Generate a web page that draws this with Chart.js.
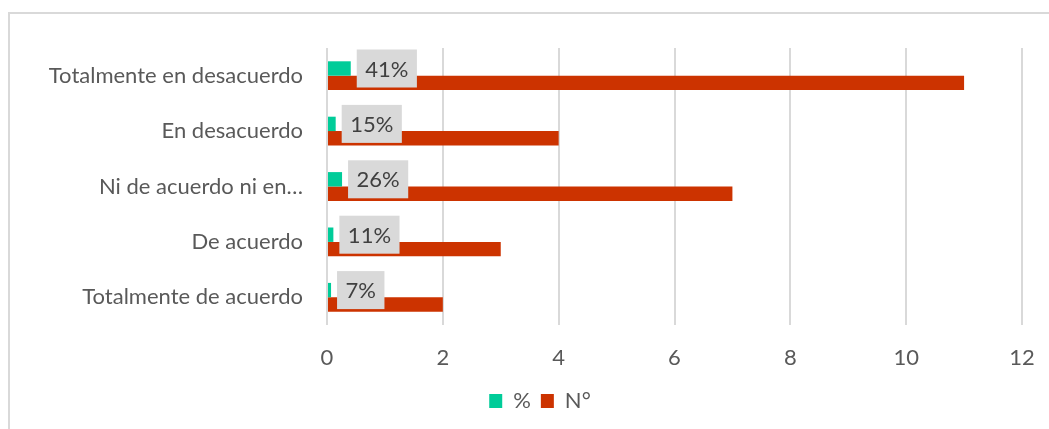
<!DOCTYPE html>
<html>
<head>
<meta charset="utf-8">
<script src="https://cdn.jsdelivr.net/npm/chart.js@4.4.1/dist/chart.umd.min.js"></script>
<style>
  html, body { margin: 0; padding: 0; background: #ffffff; overflow: hidden; }
  #frame {
    position: absolute; left: 8px; top: 12px; width: 1200px; height: 600px;
    border-left: 2px solid #d9d9d9; border-top: 2px solid #d9d9d9;
  }
  #wrap { position: absolute; left: 0; top: 0; width: 1049px; height: 429px; }
</style>
</head>
<body>
<div id="frame"></div>
<div id="wrap"><canvas id="chart"></canvas></div>
<script>
// Response categories, top to bottom
const categories = [
  'Totalmente en desacuerdo',
  'En desacuerdo',
  'Ni de acuerdo ni en desacuerdo',
  'De acuerdo',
  'Totalmente de acuerdo'
];
// Share of answers (fraction) and number of answers
const pctValues = [0.41, 0.15, 0.26, 0.11, 0.07];
const countValues = [11, 4, 7, 3, 2];
const seriesNames = ['%', 'N°'];
const xTicks = [0, 2, 4, 6, 8, 10, 12];

const FONT = 'Lato, "Liberation Sans", sans-serif';
const TEXT = '#595959';

// Grey value boxes at the end of each percentage bar
const valueBoxes = {
  id: 'valueBoxes',
  afterDatasetsDraw(chart) {
    const meta = chart.getDatasetMeta(0);
    const ctx = chart.ctx;
    ctx.save();
    ctx.font = '22px ' + FONT;
    meta.data.forEach((bar, i) => {
      const text = Math.round(pctValues[i] * 100) + '%';
      const w = ctx.measureText(text).width + 17;
      const h = 38;
      const left = bar.x + 6;
      const top = bar.y - h / 2;
      ctx.fillStyle = '#d9d9d9';
      ctx.fillRect(left, top, w, h);
      ctx.fillStyle = '#404040';
      ctx.textAlign = 'center';
      ctx.textBaseline = 'middle';
      ctx.fillText(text, left + w / 2, bar.y + 1);
    });
    ctx.restore();
  }
};

// Place the legend row under the plot
const legendPlacer = {
  id: 'legendPlacer',
  afterLayout(chart) {
    const lg = chart.legend;
    if (!lg) return;
    const dx = 540 - (lg.left + lg.right) / 2;
    lg.left += dx; lg.right += dx;
    const pad = lg.options.labels.padding;
    const targetTop = 401 - pad - 11;
    const dy = targetTop - lg.top;
    lg.top += dy; lg.bottom += dy;
  }
};

new Chart(document.getElementById('chart'), {
  type: 'bar',
  data: {
    labels: categories,
    datasets: [
      { label: seriesNames[0], data: pctValues, backgroundColor: '#00cc99' },
      { label: seriesNames[1], data: countValues, backgroundColor: '#cc3300' }
    ]
  },
  options: {
    indexAxis: 'y',
    responsive: true,
    maintainAspectRatio: false,
    animation: false,
    events: [],
    categoryPercentage: 0.52,
    barPercentage: 1.0,
    layout: { padding: { top: 48, right: 27, left: 0, bottom: 0 } },
    scales: {
      x: {
        min: 0, max: 12,
        afterBuildTicks(scale) { scale.ticks = xTicks.map(v => ({ value: v })); },
        afterFit(scale) {
          const lh = scale.chart.legend ? scale.chart.legend.height : 40;
          scale.height = 429 - 325 - lh;
        },
        grid: {
          color: '#d9d9d9', lineWidth: 2,
          drawTicks: true, tickLength: 16, tickColor: 'rgba(0,0,0,0)'
        },
        border: { display: false },
        ticks: { color: TEXT, font: { family: FONT, size: 22 }, padding: 4 }
      },
      y: {
        afterFit(scale) { scale.width = 327; },
        grid: { display: false, drawTicks: false },
        border: { display: false },
        ticks: {
          color: TEXT,
          font: { family: FONT, size: 22 },
          padding: 24,
          callback(value) {
            const s = this.getLabelForValue(value);
            return s.length > 26 ? s.slice(0, 19) + '…' : s;
          }
        }
      }
    },
    plugins: {
      legend: {
        position: 'bottom',
        labels: {
          color: TEXT,
          font: { family: FONT, size: 22 },
          boxWidth: 13,
          boxHeight: 14,
          padding: 10
        }
      },
      tooltip: { enabled: false }
    }
  },
  plugins: [valueBoxes, legendPlacer]
});
</script>
</body>
</html>
